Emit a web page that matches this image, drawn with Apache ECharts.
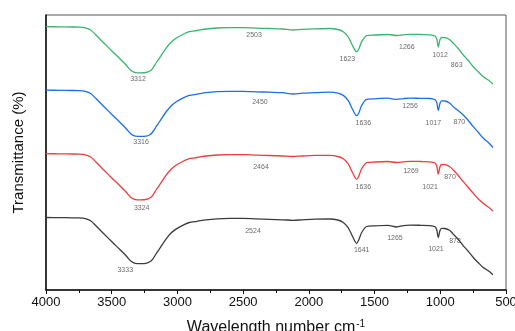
<!DOCTYPE html>
<html>
<head>
<meta charset="utf-8">
<script src="https://cdn.jsdelivr.net/npm/echarts@6/dist/echarts.min.js"></script>
<style>
  html, body { margin: 0; padding: 0; background: #fff; }
  #chart { width: 515px; height: 331px; }
</style>
</head>
<body>
<div id="chart"></div>
<script>
// wavenumbers (cm-1) shared by all four spectra
const waves = [4000, 3900, 3800, 3750, 3700, 3660, 3620, 3560, 3493, 3440,
  3391, 3353, 3320, 3280, 3240, 3210, 3188, 3160, 3138, 3087,
  3050, 3011, 2960, 2910, 2850, 2783, 2700, 2600, 2500, 2400,
  2300, 2200, 2120, 2050, 1950, 1840, 1780, 1738, 1700, 1670,
  1636, 1620, 1598, 1560, 1500, 1400, 1332, 1280, 1230, 1150,
  1080, 1040, 1027, 1015, 1003, 990, 964, 930, 901, 860,
  825, 790, 749, 710, 673, 630, 600]

// transmittance (stacked, arbitrary offset units)
const green = [263.3, 263.2, 263.0, 262.9, 262.2, 260.0, 255.0, 247.0, 238.3, 231.5,
  225.0, 219.5, 217.4, 217.2, 217.5, 219.0, 221.7, 227.5, 231.7, 241.7,
  247.5, 251.7, 255.5, 258.3, 259.5, 261.0, 262.0, 262.4, 262.4, 261.9,
  261.5, 261.0, 260.0, 260.7, 261.2, 261.5, 260.5, 258.3, 253.0, 245.0,
  238.3, 241.0, 248.3, 254.3, 255.0, 255.5, 254.5, 255.2, 255.7, 255.5,
  255.2, 254.0, 251.0, 243.0, 250.0, 252.5, 252.3, 250.5, 246.7, 241.0,
  235.0, 230.0, 223.3, 218.0, 213.3, 209.5, 206.0]
const blue = [199.8, 199.7, 199.5, 199.4, 198.7, 196.5, 191.5, 183.5, 174.8, 168.0,
  161.5, 156.0, 153.9, 153.6, 153.8, 155.3, 158.0, 163.8, 168.0, 178.0,
  183.8, 188.0, 191.8, 194.6, 195.8, 197.3, 198.3, 198.7, 198.6, 198.2,
  197.8, 197.3, 196.0, 196.8, 197.4, 197.8, 196.8, 194.6, 189.3, 181.3,
  174.3, 177.0, 184.6, 190.6, 191.2, 191.8, 190.6, 191.4, 191.9, 191.6,
  191.5, 190.3, 187.5, 179.5, 186.5, 189.2, 189.0, 187.0, 183.3, 179.0,
  175.0, 170.0, 163.3, 157.5, 151.7, 147.0, 142.5]
const red = [136.3, 136.2, 136.0, 135.9, 135.2, 133.0, 128.0, 120.0, 111.3, 104.5,
  98.0, 92.5, 90.4, 90.2, 90.5, 92.0, 94.7, 100.5, 104.7, 114.7,
  120.5, 124.7, 128.5, 131.3, 132.5, 134.0, 135.0, 135.4, 135.4, 134.9,
  134.5, 134.0, 133.5, 134.0, 134.6, 134.6, 133.5, 131.3, 126.0, 118.0,
  110.7, 114.0, 121.3, 127.3, 128.0, 128.5, 127.5, 128.2, 128.7, 128.5,
  128.2, 127.0, 124.0, 115.8, 123.0, 125.5, 125.3, 123.5, 120.0, 114.0,
  108.3, 103.0, 96.7, 91.0, 86.7, 82.5, 79.0]
const black = [72.5, 72.4, 72.2, 72.1, 71.4, 69.2, 64.2, 56.2, 47.5, 40.7,
  34.2, 28.7, 26.6, 26.4, 26.7, 28.2, 30.9, 36.7, 40.9, 50.9,
  56.7, 60.9, 64.7, 67.5, 68.7, 70.2, 71.2, 71.6, 71.6, 71.1,
  70.7, 70.2, 69.7, 70.2, 70.8, 71.0, 70.0, 67.5, 62.2, 54.2,
  46.7, 50.2, 57.5, 63.5, 64.2, 64.7, 63.0, 64.4, 64.9, 64.7,
  64.4, 63.2, 60.2, 52.3, 59.2, 61.7, 61.5, 59.7, 55.9, 50.2,
  44.2, 39.2, 32.5, 27.2, 22.5, 18.7, 15.2]

// peak annotations: [wavenumber, y, text]
const greenPeaks = [[3300, 211, '3312'], [2417, 255, '2503'], [1707, 230.5, '1623'],
  [1255, 243.3, '1266'], [1002, 235.3, '1012'], [875, 225, '863']]
const bluePeaks = [[3277, 147.7, '3316'], [2372, 187.7, '2450'], [1586, 167.3, '1636'],
  [1230, 184.3, '1256'], [1053, 166.7, '1017'], [855, 167.7, '870']]
const redPeaks = [[3272, 82.3, '3324'], [2364, 123, '2464'], [1586, 103.3, '1636'],
  [1223, 119, '1269'], [1078, 103.3, '1021'], [926, 113.3, '870']]
const blackPeaks = [[3397, 20, '3333'], [2425, 59.3, '2524'], [1598, 40, '1641'],
  [1345, 52.3, '1265'], [1033, 40.7, '1021'], [888, 49, '878']]

const font = 'Liberation Sans, Arial, sans-serif'
const chart = echarts.init(document.getElementById('chart'))

function spectrum(vals, color) {
  return {
    type: 'line',
    data: waves.map((w, i) => [w, vals[i]]),
    smooth: 0.3,
    showSymbol: false,
    lineStyle: { color: color, width: 1.3 },
    z: 3
  }
}

function peaks(list) {
  return {
    type: 'scatter',
    data: list,
    symbolSize: 1,
    itemStyle: { color: 'rgba(0,0,0,0)' },
    label: {
      show: true,
      position: 'inside',
      formatter: p => p.data[2],
      fontFamily: font,
      fontSize: 7,
      color: '#444'
    },
    z: 4
  }
}

const option = {
  animation: false,
  grid: {
    left: 46,
    right: 9,
    top: 15,
    bottom: 41,
    outerBoundsMode: 'none',
    containLabel: false,
    show: true,
    borderColor: '#555',
    borderWidth: 1
  },
  xAxis: {
    type: 'value',
    inverse: true,
    min: 500,
    max: 4000,
    interval: 500,
    name: 'Wavelength number cm{sup|-1}',
    nameLocation: 'middle',
    nameGap: 29,
    nameTextStyle: {
      fontFamily: font,
      fontSize: 16,
      color: '#111',
      rich: { sup: { fontSize: 10, verticalAlign: 'top', padding: [0, 0, 8, 1], fontFamily: font, color: '#111' } }
    },
    axisLine: { show: true, lineStyle: { color: '#111', width: 1.5 } },
    axisTick: { show: true, length: 4, lineStyle: { color: '#111' } },
    minorTick: { show: true, splitNumber: 2, length: 3, lineStyle: { color: '#111' } },
    axisLabel: { fontFamily: font, fontSize: 13, color: '#111', margin: 6, formatter: v => String(v) },
    splitLine: { show: false }
  },
  yAxis: {
    type: 'value',
    min: 0,
    max: 275,
    name: 'Transmittance (%)',
    nameLocation: 'middle',
    nameGap: 20,
    nameTextStyle: { fontFamily: font, fontSize: 15, color: '#111' },
    axisLine: { show: true, lineStyle: { color: '#111', width: 1.5 } },
    axisTick: { show: false },
    axisLabel: { show: false },
    splitLine: { show: false }
  },
  series: [
    spectrum(green, '#3db46d'),
    spectrum(blue, '#1e6ee6'),
    spectrum(red, '#f03c3c'),
    spectrum(black, '#3c3c3c'),
    peaks(greenPeaks),
    peaks(bluePeaks),
    peaks(redPeaks),
    peaks(blackPeaks)
  ]
}

chart.setOption(option)
</script>
</body>
</html>
